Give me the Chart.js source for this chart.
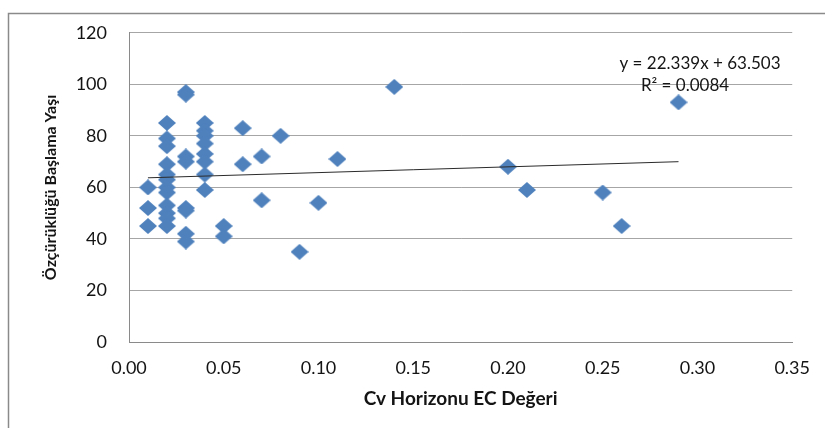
<!DOCTYPE html>
<html>
<head>
<meta charset="utf-8">
<script src="https://cdn.jsdelivr.net/npm/chart.js@4/dist/chart.umd.min.js"></script>
<style>
  html, body { margin: 0; padding: 0; background: #fff; }
  #wrap { width: 825px; height: 428px; }
</style>
</head>
<body>
<div id="wrap"><canvas id="c" width="825" height="428"></canvas></div>
<script>
// Cv horizon EC values and the matching onset ages
const ecValues = [
  0.01, 0.01, 0.01,
  0.02, 0.02, 0.02, 0.02, 0.02, 0.02, 0.02, 0.02, 0.02, 0.02, 0.02, 0.02,
  0.03, 0.03, 0.03, 0.03, 0.03, 0.03, 0.03, 0.03,
  0.04, 0.04, 0.04, 0.04, 0.04, 0.04, 0.04, 0.04,
  0.05, 0.05,
  0.06, 0.06,
  0.07, 0.07,
  0.08, 0.09, 0.10, 0.11, 0.14, 0.20, 0.21, 0.25, 0.26, 0.29
];
const onsetAges = [
  60, 52, 45,
  85, 79, 76, 69, 65, 63, 60, 58, 53, 50, 48, 45,
  97, 96, 72, 70, 52, 51, 42, 39,
  85, 82, 80, 77, 73, 70, 65, 59,
  45, 41,
  83, 69,
  72, 55,
  80, 35, 54, 71, 99, 68, 59, 58, 45, 93
];

// Linear trend line coefficients
const trendSlope = 22.339;
const trendIntercept = 63.503;
const rSquared = 0.0084;
const trendRange = [0.01, 0.29];

const xAxisTitle = 'Cv Horizonu EC Değeri';
const yAxisTitle = 'Özçürüklüğü Başlama Yaşı';

const points = ecValues.map((x, i) => ({ x: x, y: onsetAges[i] }));
const trendPoints = trendRange.map(x => ({ x: x, y: trendIntercept + trendSlope * x }));

// Slightly flattened diamond marker
function diamondMarker(w, h, color) {
  const c = document.createElement('canvas');
  c.width = w; c.height = h;
  const g = c.getContext('2d');
  g.fillStyle = color;
  g.beginPath();
  g.moveTo(w / 2, 0);
  g.lineTo(w, h / 2);
  g.lineTo(w / 2, h);
  g.lineTo(0, h / 2);
  g.closePath();
  g.fill();
  return c;
}
const marker = diamondMarker(18, 16, '#4f81bd');

const FONT = 'Lato, "Open Sans", sans-serif';
const TEXT = '#141414';

// Outer frame and the regression label
const framePlugin = {
  id: 'frame',
  beforeDraw(chart) {
    const ctx = chart.ctx;
    ctx.save();
    ctx.fillStyle = '#ffffff';
    ctx.fillRect(0, 0, chart.width, chart.height);
    ctx.strokeStyle = '#8a8a8a';
    ctx.lineWidth = 1.5;
    ctx.strokeRect(8.5, 13.5, 840, 440);
    ctx.restore();
  },
  afterDraw(chart) {
    const ctx = chart.ctx;
    ctx.save();
    ctx.fillStyle = TEXT;
    ctx.font = '17px ' + FONT;
    ctx.textAlign = 'center';
    ctx.textBaseline = 'middle';
    ctx.fillText('y = ' + trendSlope.toFixed(3) + 'x + ' + trendIntercept.toFixed(3), 700, 64);
    ctx.fillText('R² = ' + rSquared.toFixed(4), 685, 86);
    ctx.restore();
  }
};

new Chart(document.getElementById('c'), {
  type: 'scatter',
  data: {
    datasets: [
      {
        label: 'Onset',
        data: points,
        pointStyle: marker,
        pointRadius: 9,
        pointHoverRadius: 9,
        backgroundColor: '#4f81bd',
        borderColor: '#4f81bd',
        order: 2
      },
      {
        label: 'Trend',
        type: 'line',
        data: trendPoints,
        borderColor: '#2b2b2b',
        borderWidth: 1,
        pointRadius: 0,
        fill: false,
        order: 1
      }
    ]
  },
  options: {
    responsive: false,
    animation: false,
    layout: { padding: { left: 8, top: 30, right: 32, bottom: 0 } },
    plugins: {
      legend: { display: false },
      tooltip: { enabled: false }
    },
    scales: {
      x: {
        type: 'linear',
        min: 0,
        max: 0.35,
        afterFit(scale) { scale.height = 86; },
        ticks: {
          stepSize: 0.05,
          padding: 15,
          color: TEXT,
          font: { family: FONT, size: 18 },
          callback: v => Number(v).toFixed(2)
        },
        grid: { display: false, drawTicks: false },
        border: { display: true, color: '#8a8a8a', width: 1 },
        title: {
          display: true,
          text: xAxisTitle,
          color: TEXT,
          font: { family: FONT, size: 19, weight: 'bold' },
          padding: { top: 0, bottom: 18 }
        }
      },
      y: {
        min: 0,
        max: 120,
        afterFit(scale) { scale.width = 121; },
        ticks: {
          stepSize: 20,
          padding: 22,
          color: TEXT,
          font: { family: FONT, size: 18 }
        },
        grid: { color: '#a6a6a6', lineWidth: 1, drawTicks: false },
        border: { display: true, color: '#8a8a8a', width: 1 },
        title: {
          display: true,
          text: yAxisTitle,
          color: TEXT,
          font: { family: FONT, size: 16, weight: 'bold' },
          padding: { top: 33, bottom: 0 }
        }
      }
    }
  },
  plugins: [framePlugin]
});
</script>
</body>
</html>
